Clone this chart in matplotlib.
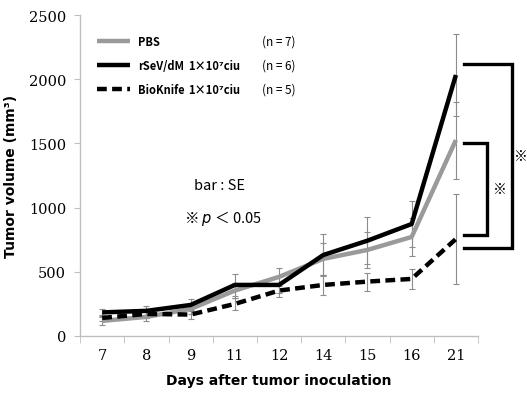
import matplotlib
matplotlib.use("Agg")
import matplotlib.pyplot as plt
import numpy as np

days = ["7", "8", "9", "11", "12", "14", "15", "16", "21"]

pbs = [117, 148, 210, 353, 460, 600, 670, 771, 1526]
pbs_se = [30, 35, 40, 60, 70, 125, 140, 150, 300]

rsev = [183, 195, 241, 397, 397, 630, 742, 872, 2033]
rsev_se = [30, 35, 45, 85, 60, 165, 185, 180, 320]

bioknife = [140, 171, 166, 249, 353, 397, 423, 444, 755]
bioknife_se = [25, 30, 35, 45, 50, 75, 70, 80, 350]

group_names = ["PBS", "rSeV/dM", "BioKnife"]
group_doses = ["", "1×10⁷ciu", "1×10⁷ciu"]
group_n = ["(n = 7)", "(n = 6)", "(n = 5)"]

# significance brackets at day 21: (low, high) in mm³
outer_bracket = (685, 2120)
inner_bracket = (785, 1505)

GRAY = "#9a9a9a"
ERR = "#8c8c8c"
JP = ["Noto Sans CJK JP", "DejaVu Sans"]

fig = plt.figure(figsize=(5.27, 4.02), dpi=100)
ax = fig.add_axes([0.152, 0.162, 0.755, 0.798])

x = np.arange(len(days))
series = [
    (pbs, pbs_se, dict(color=GRAY, lw=3.2, ls="-")),
    (rsev, rsev_se, dict(color="black", lw=3.2, ls="-")),
    (bioknife, bioknife_se, dict(color="black", lw=3.2, ls=(0, (2.2, 1.2)))),
]
for vals, se, style in series:
    ax.errorbar(x, vals, yerr=se, fmt="none", ecolor=ERR, elinewidth=0.8,
                capsize=2, capthick=0.8, zorder=2)
for vals, se, style in series:
    ax.plot(x, vals, zorder=3, solid_capstyle="butt", dash_capstyle="butt", **style)

ax.set_xlim(-0.5, len(days) - 0.5)
ax.set_ylim(0, 2500)
ax.set_yticks(np.arange(0, 2501, 500))
ax.set_xticks(x)
ax.set_xticklabels(days)
ax.set_xticks(np.arange(-0.5, len(days), 1), minor=True)
ax.tick_params(axis="x", which="major", length=0, pad=9)
ax.tick_params(axis="x", which="minor", length=5, color="#bfbfbf")
ax.tick_params(axis="y", length=4, color="#bfbfbf", pad=6)
for lab in ax.get_xticklabels() + ax.get_yticklabels():
    lab.set_family("DejaVu Serif")
    lab.set_fontsize(10.5)

for side in ["top", "right"]:
    ax.spines[side].set_visible(False)
for side in ["left", "bottom"]:
    ax.spines[side].set_color("#bfbfbf")
    ax.spines[side].set_linewidth(1.0)

ax.set_ylabel("Tumor volume (mm³)", fontsize=10, fontweight="bold", labelpad=8)
ax.set_xlabel("Days after tumor inoculation", fontsize=10, fontweight="bold", labelpad=8)

# legend table drawn row by row
row_y = [0.919, 0.844, 0.769]
for (vals, se, style), name, dose, n, y in zip(series, group_names, group_doses, group_n, row_y):
    ax.plot([0.043, 0.126], [y, y], transform=ax.transAxes, clip_on=False,
            color=style["color"], lw=3.2, ls=style["ls"], dash_capstyle="butt",
            solid_capstyle="butt")
    ax.text(0.146, y, name, transform=ax.transAxes, va="center", ha="left",
            fontsize=8, fontweight="bold", family=JP)
    ax.text(0.272, y, dose, transform=ax.transAxes, va="center", ha="left",
            fontsize=8, fontweight="bold", family=JP)
    ax.text(0.458, y, n, transform=ax.transAxes, va="center", ha="left",
            fontsize=8.5, family=JP)

ax.text(0.35, 0.47, "bar : SE", transform=ax.transAxes, ha="center", va="center",
        fontsize=10.5, family=JP)
ax.text(0.36, 0.37, "※ $\\it{p}$ ＜ 0.05", transform=ax.transAxes, ha="center",
        va="center", fontsize=10.5, family=JP)


def bracket(x0, x1, lo, hi, star_x):
    ax.plot([x0, x1, x1, x0], [hi, hi, lo, lo], color="black", lw=2.4,
            clip_on=False, solid_joinstyle="miter")
    ax.text(star_x, (lo + hi) / 2, "※", ha="center", va="center", fontsize=10,
            family=JP, clip_on=False)


last = len(days) - 1
bracket(last + 0.18, last + 1.27, outer_bracket[0], outer_bracket[1], last + 1.47)
bracket(last + 0.18, last + 0.70, inner_bracket[0], inner_bracket[1], last + 1.0)

fig.savefig("out.png", dpi=100)
